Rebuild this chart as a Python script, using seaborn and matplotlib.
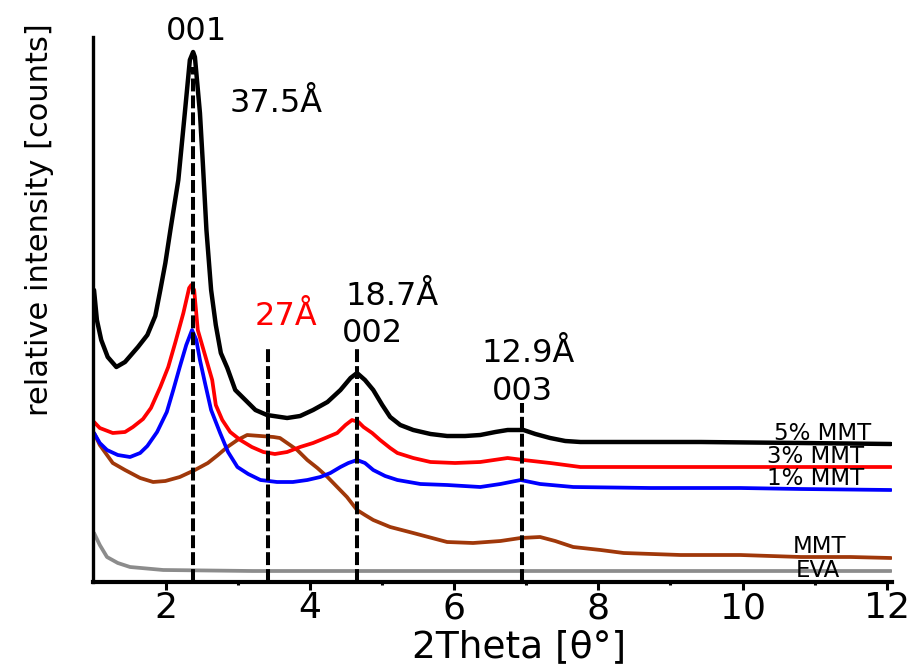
import matplotlib
matplotlib.use("Agg")
import matplotlib.pyplot as plt
import seaborn as sns
import pandas as pd

# ---------------- data ----------------
black_x = [1.00, 1.04, 1.10, 1.19, 1.31, 1.43, 1.61, 1.74, 1.85, 1.92, 1.99, 2.06, 2.17, 2.26, 2.33,
           2.375, 2.40, 2.47, 2.51, 2.56, 2.625, 2.69, 2.76, 2.85, 2.96, 3.10, 3.24, 3.40, 3.68, 3.86,
           4.04, 4.24, 4.42, 4.56, 4.65, 4.76, 4.875, 5.00, 5.11, 5.25, 5.43, 5.67, 5.90, 6.15, 6.36,
           6.57, 6.74, 6.96, 7.125, 7.33, 7.54, 7.75, 8.58, 9.42, 10.81, 12.06]
black_y = [292, 262, 242, 225, 215, 220, 235, 247, 266, 292, 319, 352, 402, 469, 522,
           530, 525, 469, 419, 352, 292, 257, 229, 214, 192, 182, 172, 167, 164, 166,
           172, 180, 192, 204, 209, 202, 192, 177, 165, 157, 152, 148, 146, 146, 147,
           150, 152, 152, 148, 144, 141, 140, 140, 140, 139, 138]

red_x = [1.00, 1.08, 1.26, 1.43, 1.54, 1.68, 1.79, 1.92, 2.03, 2.13, 2.24, 2.32, 2.35, 2.39, 2.44,
         2.54, 2.64, 2.69, 2.78, 2.89, 3.03, 3.19, 3.35, 3.51, 3.68, 3.86, 4.04, 4.21, 4.375, 4.49,
         4.58, 4.67, 4.74, 4.86, 4.97, 5.11, 5.21, 5.43, 5.67, 6.01, 6.36, 6.74, 6.96, 7.33, 7.75,
         8.72, 9.97, 12.06]
red_y = [160, 154, 149, 150, 155, 163, 174, 195, 215, 240, 269, 294, 297, 292, 252,
         227, 202, 177, 162, 150, 142, 135, 130, 128, 130, 135, 139, 144, 149, 157,
         162, 160, 155, 149, 142, 134, 129, 124, 120, 119, 120, 124, 122, 119, 115,
         115, 115, 115]

blue_x = [1.00, 1.08, 1.18, 1.33, 1.50, 1.64, 1.74, 1.875, 2.01, 2.10, 2.19, 2.28, 2.36, 2.42, 2.47,
          2.54, 2.625, 2.75, 2.86, 2.99, 3.14, 3.31, 3.54, 3.76, 3.96, 4.14, 4.28, 4.42, 4.53, 4.65,
          4.76, 4.875, 5.04, 5.21, 5.53, 5.90, 6.36, 6.64, 6.92, 7.19, 7.65, 8.72, 9.97, 10.81, 12.06]
blue_y = [149, 139, 132, 127, 125, 129, 136, 150, 170, 192, 215, 237, 252, 242, 222,
          199, 172, 149, 130, 115, 108, 102, 100, 100, 102, 105, 109, 115, 119, 122,
          119, 112, 106, 102, 98, 97, 95, 98, 102, 98, 95, 94, 94, 93, 92]

brown_x = [1.00, 1.08, 1.18, 1.26, 1.43, 1.64, 1.82, 1.99, 2.19, 2.40, 2.58, 2.72, 2.85, 2.99, 3.125,
           3.31, 3.49, 3.58, 3.68, 3.82, 3.96, 4.10, 4.24, 4.375, 4.51, 4.65, 4.76, 4.875, 5.11, 5.43,
           5.90, 6.26, 6.64, 6.92, 7.19, 7.40, 7.65, 8.03, 8.35, 9.14, 9.97, 10.81, 11.50, 12.06]
brown_y = [149, 137, 127, 119, 112, 104, 100, 101, 105, 112, 119, 127, 135, 142, 147,
           146, 145, 144, 139, 132, 122, 114, 105, 95, 85, 72, 67, 62, 55, 49,
           40, 39, 41, 44, 45, 41, 35, 32, 29, 27, 27, 25, 25, 24]

gray_x = [1.00, 1.08, 1.18, 1.33, 1.50, 1.96, 3.20, 5.30, 8.00, 10.80, 12.06]
gray_y = [49, 37, 25, 19, 15, 12, 11, 11, 11, 11, 11]

series_names = ["5% MMT", "3% MMT", "1% MMT", "MMT", "EVA"]
series_colors = ["#000000", "#ff0000", "#0000ff", "#a0380a", "#8c8c8c"]

# dashed reference lines (peak positions) and their heights
peak_x = [2.38, 3.41, 4.65, 6.94]
peak_top = [515, 234, 235, 179]

# peak annotations
ann_text = ["001", "37.5Å", "27Å", "18.7Å", "002", "12.9Å", "003"]
ann_x = [2.42, 3.53, 3.67, 5.14, 4.86, 7.03, 6.94]
ann_y = [542, 470, 257, 277, 240, 220, 182]
ann_color = ["black", "black", "#ff0000", "black", "black", "black", "black"]

# curve labels at the right
lab_x = [11.11, 11.01, 11.01, 11.07, 11.04]
lab_y = [142, 119, 97, 29, 5]

x_ticks = [2, 4, 6, 8, 10, 12]
x_minor = [3, 5, 7, 9, 11]

# ---------------- plotting ----------------
sns.set_theme(style="white")
plt.rcParams["font.family"] = ["DejaVu Sans"]

df = pd.concat([
    pd.DataFrame({"x": xs, "y": ys, "sample": n})
    for n, xs, ys in zip(series_names,
                         [black_x, red_x, blue_x, brown_x, gray_x],
                         [black_y, red_y, blue_y, brown_y, gray_y])
], ignore_index=True)

fig = plt.figure(figsize=(9.16, 6.66), dpi=100)
ax = fig.add_axes([93.3 / 916, 1 - 582 / 666, (891.7 - 93.3) / 916, (582 - 37) / 666])

widths = [3.2, 2.7, 2.7, 2.7, 2.7]
for n, c, w in zip(series_names[::-1], series_colors[::-1], widths[::-1]):
    sns.lineplot(data=df[df["sample"] == n], x="x", y="y", color=c, linewidth=w,
                 sort=False, estimator=None, ax=ax, legend=False,
                 solid_joinstyle="round", solid_capstyle="round")

ax.vlines(peak_x, 0, peak_top, colors="black", linewidth=2.9,
          linestyles=[(0, (3.2, 1.0))], zorder=5)

for t, x, y, c in zip(ann_text, ann_x, ann_y, ann_color):
    ax.text(x, y, t, color=c, fontsize=23, ha="center", va="baseline", zorder=6)

for t, x, y in zip(series_names, lab_x, lab_y):
    ax.text(x, y, t, color="black", fontsize=16.5, ha="center", va="baseline", zorder=6)

ax.set_xlim(0.99, 12.07)
ax.set_ylim(0, 545)
ax.set_xticks(x_ticks)
ax.set_xticks(x_minor, minor=True)
ax.set_xticklabels([str(t) for t in x_ticks])
ax.set_yticks([])
ax.tick_params(axis="x", which="major", direction="out", length=5.8, width=2.2,
               labelsize=26, pad=1, color="black", labelcolor="black", bottom=True)
ax.tick_params(axis="x", which="minor", direction="out", length=2.2, width=2.2,
               color="black", bottom=True)

for s in ["top", "right"]:
    ax.spines[s].set_visible(False)
ax.spines["left"].set_linewidth(2.4)
ax.spines["bottom"].set_linewidth(3.0)
ax.spines["left"].set_color("black")
ax.spines["bottom"].set_color("black")

ax.set_xlabel("2Theta [θ°]", fontsize=27, color="black", va="baseline")
ax.xaxis.set_label_coords(0.533, -0.137)
ax.set_ylabel("relative intensity [counts]", fontsize=22, color="black", va="center")
ax.yaxis.set_label_coords(-0.067, 0.664)

fig.savefig("out.png", dpi=100)
